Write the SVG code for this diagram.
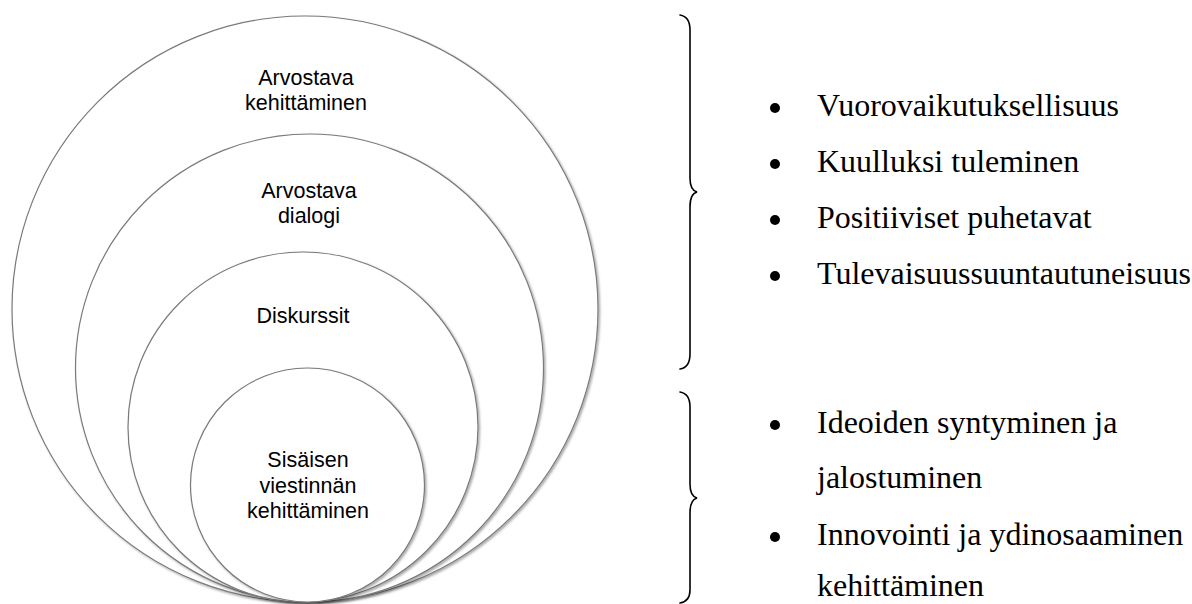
<svg xmlns="http://www.w3.org/2000/svg" width="1192" height="604" viewBox="0 0 1192 604">
<defs>
<filter id="sh" x="-10%" y="-10%" width="120%" height="120%">
<feDropShadow dx="1.5" dy="1.5" stdDeviation="1.2" flood-color="#000" flood-opacity="0.35"/>
</filter>
</defs>
<style>
.ring{fill:#fff;stroke:#7a7a7a;stroke-width:1.2;filter:url(#sh)}
.lbl{font-family:"Liberation Sans",Arial,sans-serif;font-size:21.5px;fill:#000;text-anchor:middle}
.item{font-family:"Liberation Serif","Times New Roman",serif;font-size:32px;fill:#000}
.brace{fill:none;stroke:#000;stroke-width:1.6;stroke-linecap:round}
.dot{fill:#000}
</style>
<rect width="1192" height="604" fill="#fff"/>
<g id="node-arvostava-kehittaminen">
<circle class="ring" cx="305" cy="309" r="293"/>
<text class="lbl" x="306" y="85">Arvostava</text>
<text class="lbl" x="306" y="110">kehittäminen</text>
</g>
<g id="node-arvostava-dialogi">
<circle class="ring" cx="309.5" cy="368" r="234"/>
<text class="lbl" x="309" y="198">Arvostava</text>
<text class="lbl" x="309" y="223">dialogi</text>
</g>
<g id="node-diskurssit">
<circle class="ring" cx="303" cy="427" r="175"/>
<text class="lbl" x="303" y="323">Diskurssit</text>
</g>
<g id="node-sisaisen">
<circle class="ring" cx="307.5" cy="485" r="117"/>
<text class="lbl" x="308" y="467">Sisäisen</text>
<text class="lbl" x="308" y="493">viestinnän</text>
<text class="lbl" x="308" y="518">kehittäminen</text>
</g>
<g id="connectors">
<path class="brace" d="M680,15 C686,16 690,20 690,30 L690,178 C690,187 693,191 697,192 C693,193 690,198 690,207 L690,354 C690,363 686,368 680,369"/>
<path class="brace" d="M680,392 C686,393 690,397 690,407 L690,484 C690,493 693,497 697,498 C693,499 690,504 690,513 L690,590 C690,598 686,602 680,603"/>
</g>
<g id="list-top">
<circle class="dot" cx="775" cy="108" r="5"/>
<text class="item" x="817" y="116">Vuorovaikutuksellisuus</text>
<circle class="dot" cx="775" cy="164" r="5"/>
<text class="item" x="817" y="172">Kuulluksi tuleminen</text>
<circle class="dot" cx="775" cy="220" r="5"/>
<text class="item" x="817" y="228">Positiiviset puhetavat</text>
<circle class="dot" cx="775" cy="276" r="5"/>
<text class="item" x="817" y="284">Tulevaisuussuuntautuneisuus</text>
</g>
<g id="list-bottom">
<circle class="dot" cx="775" cy="425" r="5"/>
<text class="item" x="817" y="433">Ideoiden syntyminen ja</text>
<text class="item" x="817" y="488">jalostuminen</text>
<circle class="dot" cx="775" cy="537" r="5"/>
<text class="item" x="817" y="545">Innovointi ja ydinosaaminen</text>
<text class="item" x="817" y="596">kehittäminen</text>
</g>
</svg>
